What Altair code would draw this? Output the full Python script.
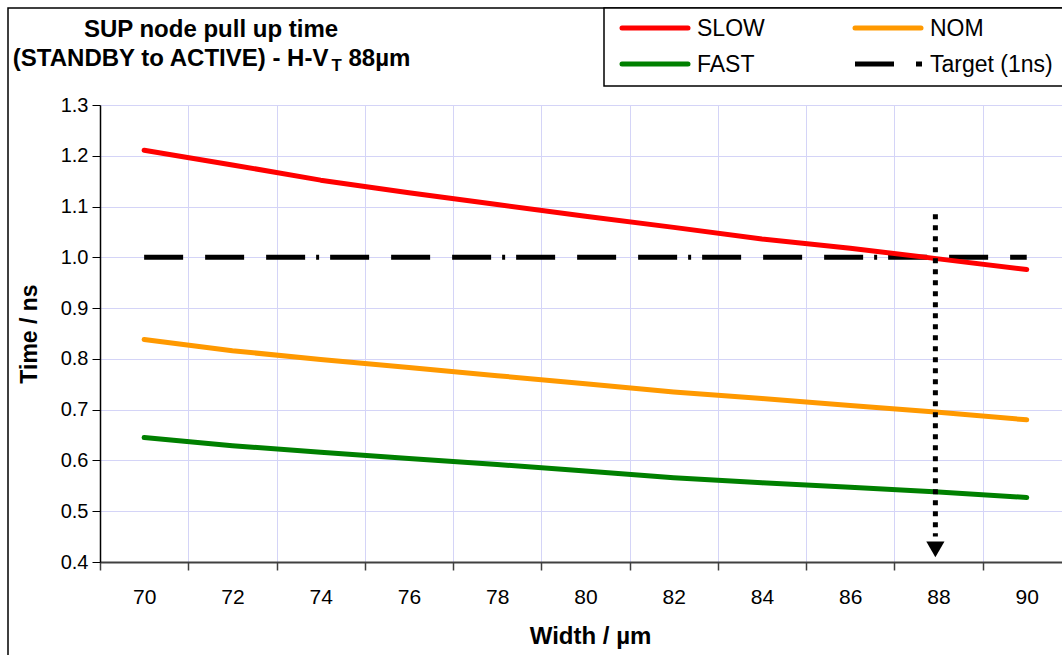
import altair as alt
import pandas as pd

# ---------------- data ----------------
widths = [70, 72, 74, 76, 78, 80, 82, 84, 86, 88, 90]
slow = [1.211, 1.182, 1.152, 1.127, 1.104, 1.081, 1.059, 1.036, 1.018, 0.997, 0.976]
nom = [0.838, 0.816, 0.799, 0.783, 0.767, 0.751, 0.735, 0.722, 0.708, 0.695, 0.680]
fast = [0.645, 0.629, 0.616, 0.604, 0.592, 0.579, 0.566, 0.556, 0.547, 0.538, 0.527]
target = [1.0, 1.0, 1.0, 1.0, 1.0, 1.0, 1.0, 1.0, 1.0, 1.0, 1.0]

series_names = ["SLOW", "NOM", "FAST", "Target (1ns)"]
series_colors = ["#ff0000", "#ff9900", "#008000", "#000000"]

y_ticks = [0.4, 0.5, 0.6, 0.7, 0.8, 0.9, 1.0, 1.1, 1.2, 1.3]
x_tick_labels = [70, 72, 74, 76, 78, 80, 82, 84, 86, 88, 90]

arrow_x = 87.93
arrow_top = 1.085
arrow_bottom = 0.45
arrow_head = 0.425

title_line1 = "SUP node pull up time"
title_line2_a = "(STANDBY to ACTIVE) - H-V"
title_line2_sub = "T"
title_line2_b = "88µm"
x_title = "Width / µm"
y_title = "Time / ns"

# ---------------- layout / style ----------------
FONT = "Liberation Sans"
W, H = 962, 457
PAD_L, PAD_T = 100, 105
GRID = "#d4d4f7"
TARGET_DASH = [39, 22, 39, 22, 39, 11, 3, 11]

rows = []
for name, vals in zip(series_names[:3], [slow, nom, fast]):
    for w, v in zip(widths, vals):
        rows.append({"series": name, "width": w, "time": v})
df = pd.DataFrame(rows)
df_target = pd.DataFrame({"width": widths, "time": target, "series": series_names[3]})

x_min = x_tick_labels[0] - 1
x_max = x_min + W / 44.13
xscale = alt.Scale(domain=[x_min, x_max], nice=False, zero=False)
yscale = alt.Scale(domain=[y_ticks[0], y_ticks[-1]], nice=False, zero=False)

axis_positions = list(range(x_min, x_tick_labels[-1] + 1))
odd_cond = "datum.value % 2 == 1"
xaxis = alt.Axis(
    values=axis_positions,
    labelExpr="datum.value % 2 == 0 ? datum.value : ''",
    grid=True,
    gridColor=GRID,
    gridWidth=1,
    gridOpacity={"condition": {"test": odd_cond, "value": 1}, "value": 0},
    tickOpacity={"condition": {"test": odd_cond, "value": 1}, "value": 0},
    tickColor="#404040",
    tickSize=8,
    tickWidth=1.5,
    domainColor="#404040",
    domainWidth=2,
    labelFont=FONT,
    labelFontSize=21,
    labelColor="#000000",
    labelPadding=16,
    labelOverlap=False,
    labelFlush=False,
    title=x_title,
    titleFont=FONT,
    titleFontSize=24,
    titleFontWeight="bold",
    titleColor="#000000",
    titlePadding=17,
    titleX=490,
)
yaxis = alt.Axis(
    values=y_ticks,
    format=".1f",
    grid=True,
    gridColor=GRID,
    gridWidth=1,
    tickColor="#000000",
    tickSize=8,
    tickWidth=1,
    domainColor="#000000",
    domainWidth=1.5,
    labelFont=FONT,
    labelFontSize=20,
    labelColor="#000000",
    labelPadding=4,
    title=y_title,
    titleFont=FONT,
    titleFontSize=23,
    titleFontWeight="bold",
    titleColor="#000000",
    titlePadding=19,
)

color_scale = alt.Scale(domain=series_names, range=series_colors)

target_layer = alt.Chart(df_target).mark_line(
    strokeWidth=5, strokeDash=TARGET_DASH, strokeCap="butt", color="#000000"
).encode(
    x=alt.X("width:Q", scale=xscale, axis=xaxis),
    y=alt.Y("time:Q", scale=yscale, axis=yaxis),
)

lines = alt.Chart(df).mark_line(strokeWidth=5, strokeCap="round", strokeJoin="round").encode(
    x=alt.X("width:Q", scale=xscale, axis=xaxis),
    y=alt.Y("time:Q", scale=yscale, axis=yaxis),
    color=alt.Color("series:N", scale=color_scale, legend=None),
)

df_arrow = pd.DataFrame({"x": [arrow_x], "y": [arrow_top], "y2": [arrow_bottom], "yh": [arrow_head]})
arrow_line = alt.Chart(df_arrow).mark_rule(
    strokeWidth=5, strokeDash=[5, 6], color="#000000", strokeCap="butt"
).encode(
    x=alt.X("x:Q", scale=xscale, axis=xaxis),
    y=alt.Y("y:Q", scale=yscale, axis=yaxis),
    y2="y2:Q",
)
arrow_tip = alt.Chart(df_arrow).mark_point(
    shape="triangle-down", size=330, filled=True, color="#000000", opacity=1
).encode(
    x=alt.X("x:Q", scale=xscale, axis=xaxis),
    y=alt.Y("yh:Q", scale=yscale, axis=yaxis),
)

one = pd.DataFrame({"k": [0]})

# outer chart border
outer = alt.Chart(one).mark_rect(fillOpacity=0, stroke="#000000", strokeWidth=1.5).encode(
    x=alt.value(8 - PAD_L), x2=alt.value(1080 - PAD_L),
    y=alt.value(8 - PAD_T), y2=alt.value(680 - PAD_T),
)

# title (text marks so the subscript can be drawn)
TF = 24
title1 = alt.Chart(pd.DataFrame({"t": [title_line1]})).mark_text(
    font=FONT, fontSize=TF, fontWeight="bold", align="center", baseline="alphabetic", color="#000000"
).encode(text="t:N", x=alt.value(211 - PAD_L), y=alt.value(37 - PAD_T))

w_a = 13.277 * TF
w_sub = 0.611 * TF * 0.7
w_space = 0.278 * TF
w_b = 2.612 * TF
line2_left = 212 - (w_a + w_sub + w_space + w_b) / 2
title2a = alt.Chart(pd.DataFrame({"t": [title_line2_a]})).mark_text(
    font=FONT, fontSize=TF, fontWeight="bold", align="left", baseline="alphabetic", color="#000000"
).encode(text="t:N", x=alt.value(line2_left - PAD_L), y=alt.value(66 - PAD_T))
title2s = alt.Chart(pd.DataFrame({"t": [title_line2_sub]})).mark_text(
    font=FONT, fontSize=TF * 0.7, fontWeight="bold", align="left", baseline="alphabetic", color="#000000"
).encode(text="t:N", x=alt.value(line2_left + w_a - PAD_L), y=alt.value(71 - PAD_T))
title2b = alt.Chart(pd.DataFrame({"t": [title_line2_b]})).mark_text(
    font=FONT, fontSize=TF, fontWeight="bold", align="left", baseline="alphabetic", color="#000000"
).encode(text="t:N", x=alt.value(line2_left + w_a + w_sub + w_space - PAD_L), y=alt.value(66 - PAD_T))

# legend (drawn by hand, Excel style box)
legend_box = alt.Chart(one).mark_rect(fill="#ffffff", stroke="#000000", strokeWidth=1.5).encode(
    x=alt.value(604 - PAD_L), x2=alt.value(1075 - PAD_L),
    y=alt.value(8 - PAD_T), y2=alt.value(86 - PAD_T),
)
legend_layers = [legend_box]
col_x = [620, 853]
row_y = [28, 64]
for i, (name, col) in enumerate(zip(series_names, series_colors)):
    cx = col_x[i % 2]
    ry = row_y[i // 2]
    if name.startswith("Target"):
        sym = alt.Chart(one).mark_rule(strokeWidth=5, color=col, strokeDash=TARGET_DASH, strokeCap="butt").encode(
            x=alt.value(cx + 2 - PAD_L), x2=alt.value(cx + 69 - PAD_L), y=alt.value(ry - PAD_T)
        )
    else:
        sym = alt.Chart(one).mark_rule(strokeWidth=5, color=col, strokeCap="round").encode(
            x=alt.value(cx + 2 - PAD_L), x2=alt.value(cx + 68 - PAD_L), y=alt.value(ry - PAD_T)
        )
    lab = alt.Chart(pd.DataFrame({"t": [name]})).mark_text(
        font=FONT, fontSize=23, align="left", baseline="middle", color="#000000"
    ).encode(text="t:N", x=alt.value(cx + 77 - PAD_L), y=alt.value(ry + 1 - PAD_T))
    legend_layers += [sym, lab]

chart = alt.layer(
    outer, target_layer, lines, arrow_line, arrow_tip,
    title1, title2a, title2s, title2b, *legend_layers
).properties(
    width=W, height=H,
    autosize=alt.AutoSizeParams(type="none"),
    padding={"left": PAD_L, "top": PAD_T, "right": 0, "bottom": 655 - PAD_T - H},
    background="#ffffff",
).configure_view(
    stroke="#808080", strokeWidth=1
)

chart.save("out.html", embed_options={"renderer": "svg", "actions": False})
